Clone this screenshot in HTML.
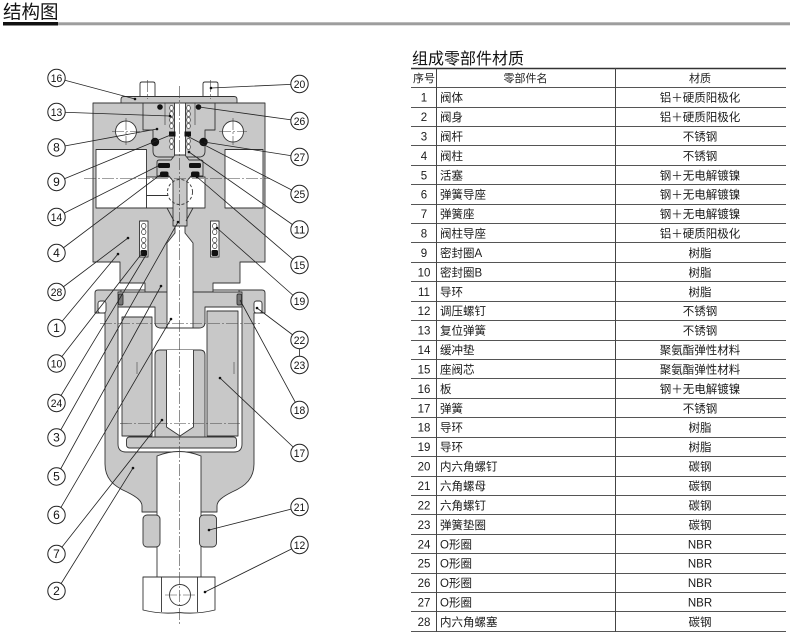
<!DOCTYPE html>
<html><head><meta charset="utf-8">
<style>
html,body{margin:0;padding:0;background:#fff;}
body{width:790px;height:641px;overflow:hidden;}
svg{display:block;font-family:"Liberation Sans","Noto Sans CJK SC",sans-serif;}
</style></head>
<body>
<svg xmlns="http://www.w3.org/2000/svg" width="790" height="641" viewBox="0 0 790 641">
<rect width="790" height="641" fill="#fff"/>
<!-- header -->
<text x="3" y="18.5" font-size="18.5" fill="#111">结构图</text>
<rect x="3" y="22" width="55" height="3.5" fill="#111"/>
<rect x="58" y="22.3" width="732" height="3" fill="#9d9d9d"/>

<!-- ===== TABLE ===== -->
<text x="412" y="64" font-size="16" fill="#111">组成零部件材质</text>
<path d="M411,68.5H786" stroke="#333" stroke-width="1.5" fill="none"/>
<path d="M411,87.5H786M411,107.5H786M411,126.5H786M411,145.5H786M411,165.5H786M411,184.5H786M411,204.5H786M411,223.5H786M411,242.5H786M411,262.5H786M411,281.5H786M411,301.5H786M411,320.5H786M411,340.5H786M411,359.5H786M411,378.5H786M411,398.5H786M411,417.5H786M411,437.5H786M411,456.5H786M411,476.5H786M411,495.5H786M411,514.5H786M411,534.5H786M411,553.5H786M411,573.5H786M411,592.5H786M411,611.5H786M411,631.5H786" stroke="#555" stroke-width="1" fill="none"/>
<path d="M436.5,68V632M615.5,68V632" stroke="#444" stroke-width="1" fill="none"/>
<g font-size="11" fill="#222" text-anchor="middle">
<text x="424" y="82">序号</text>
<text x="525.5" y="82">零部件名</text>
<text x="700" y="82">材质</text>
</g>
<g font-size="11.5" fill="#1a1a1a">
<g text-anchor="middle">
<text x="424" y="101.6">1</text><text x="424" y="121">2</text><text x="424" y="140.4">3</text><text x="424" y="159.9">4</text>
<text x="424" y="179.3">5</text><text x="424" y="198.7">6</text><text x="424" y="218.1">7</text><text x="424" y="237.5">8</text>
<text x="424" y="257">9</text><text x="424" y="276.4">10</text><text x="424" y="295.8">11</text><text x="424" y="315.2">12</text>
<text x="424" y="334.6">13</text><text x="424" y="354.1">14</text><text x="424" y="373.5">15</text><text x="424" y="392.9">16</text>
<text x="424" y="412.3">17</text><text x="424" y="431.7">18</text><text x="424" y="451.2">19</text><text x="424" y="470.6">20</text>
<text x="424" y="490">21</text><text x="424" y="509.4">22</text><text x="424" y="528.8">23</text><text x="424" y="548.3">24</text>
<text x="424" y="567.7">25</text><text x="424" y="587.1">26</text><text x="424" y="606.5">27</text><text x="424" y="625.9">28</text>
</g>
<g>
<text x="440" y="101.6">阀体</text><text x="440" y="121">阀身</text><text x="440" y="140.4">阀杆</text><text x="440" y="159.9">阀柱</text>
<text x="440" y="179.3">活塞</text><text x="440" y="198.7">弹簧导座</text><text x="440" y="218.1">弹簧座</text><text x="440" y="237.5">阀柱导座</text>
<text x="440" y="257">密封圈A</text><text x="440" y="276.4">密封圈B</text><text x="440" y="295.8">导环</text><text x="440" y="315.2">调压螺钉</text>
<text x="440" y="334.6">复位弹簧</text><text x="440" y="354.1">缓冲垫</text><text x="440" y="373.5">座阀芯</text><text x="440" y="392.9">板</text>
<text x="440" y="412.3">弹簧</text><text x="440" y="431.7">导环</text><text x="440" y="451.2">导环</text><text x="440" y="470.6">内六角螺钉</text>
<text x="440" y="490">六角螺母</text><text x="440" y="509.4">六角螺钉</text><text x="440" y="528.8">弹簧垫圈</text><text x="440" y="548.3">O形圈</text>
<text x="440" y="567.7">O形圈</text><text x="440" y="587.1">O形圈</text><text x="440" y="606.5">O形圈</text><text x="440" y="625.9">内六角螺塞</text>
</g>
<g text-anchor="middle">
<text x="700" y="101.6">铝＋硬质阳极化</text><text x="700" y="121">铝＋硬质阳极化</text><text x="700" y="140.4">不锈钢</text><text x="700" y="159.9">不锈钢</text>
<text x="700" y="179.3">钢＋无电解镀镍</text><text x="700" y="198.7">钢＋无电解镀镍</text><text x="700" y="218.1">钢＋无电解镀镍</text><text x="700" y="237.5">铝＋硬质阳极化</text>
<text x="700" y="257">树脂</text><text x="700" y="276.4">树脂</text><text x="700" y="295.8">树脂</text><text x="700" y="315.2">不锈钢</text>
<text x="700" y="334.6">不锈钢</text><text x="700" y="354.1">聚氨酯弹性材料</text><text x="700" y="373.5">聚氨酯弹性材料</text><text x="700" y="392.9">钢＋无电解镀镍</text>
<text x="700" y="412.3">不锈钢</text><text x="700" y="431.7">树脂</text><text x="700" y="451.2">树脂</text><text x="700" y="470.6">碳钢</text>
<text x="700" y="490">碳钢</text><text x="700" y="509.4">碳钢</text><text x="700" y="528.8">碳钢</text><text x="700" y="548.3">NBR</text>
<text x="700" y="567.7">NBR</text><text x="700" y="587.1">NBR</text><text x="700" y="606.5">NBR</text><text x="700" y="625.9">碳钢</text>
</g>
</g>

<!-- ===== DIAGRAM ===== -->
<g stroke="#333" stroke-width="0.9" stroke-linejoin="round">
<!-- bolts 20 -->
<path d="M140,97V84Q140,82 142,82H153Q155,82 155,84V97Z" fill="#fff"/>
<path d="M203,97V84Q203,82 205,82H216Q218,82 218,84V97Z" fill="#fff"/>
<!-- plate 16 -->
<path d="M121,104V99.5Q121,96.5 124,96.5H234Q237,96.5 237,99.5V104Z" fill="#c8c8c8"/>

<!-- body 2 outer -->
<path d="M95,293Q95,290 98,290H262Q265,290 265,293V313H254V464C254,478 246,486 232,492C222,497 217,501 217,506V512H142V506C142,501 137,497 127,492C113,486 105,478 105,464V313H95Z" fill="#c8c8c8"/>
<!-- cavity -->
<path d="M121,290H239V307H242V444Q242,452 234,452H126Q118,452 118,444V307H121Z" fill="#fff"/>

<!-- body 1 -->
<path d="M93,103H265V262H240V283H213V293H145V283H120V262H93Z" fill="#c8c8c8"/>
<!-- port holes -->
<circle cx="126" cy="131.5" r="10.5" fill="#fff"/>
<circle cx="233" cy="131.5" r="10.5" fill="#fff"/>
<!-- port windows -->
<rect x="96" y="149.5" width="50.5" height="58.5" fill="#fff"/>
<rect x="225" y="149.5" width="38" height="58.5" fill="#fff"/>
<rect x="146.5" y="177" width="58.5" height="31" fill="#fff"/>
<!-- insert outline -->
<path d="M143,103V130H153V151Q153,157 159,157H199Q205,157 205,151V130H215V103" fill="none"/>
<path d="M165,103V125M195,103V125" fill="none" stroke-width="0.6"/>
<!-- stem upper -->
<rect x="174.5" y="103" width="11" height="52" fill="#fff"/>
<g fill="#fff" stroke-width="0.7">
<ellipse cx="171.5" cy="108" rx="1.8" ry="2.6"/><ellipse cx="171.5" cy="114" rx="1.8" ry="2.6"/><ellipse cx="171.5" cy="120" rx="1.8" ry="2.6"/><ellipse cx="171.5" cy="126" rx="1.8" ry="2.6"/>
<ellipse cx="171.5" cy="141" rx="1.8" ry="2.6"/><ellipse cx="171.5" cy="147" rx="1.8" ry="2.6"/>
<ellipse cx="188.5" cy="108" rx="1.8" ry="2.6"/><ellipse cx="188.5" cy="114" rx="1.8" ry="2.6"/><ellipse cx="188.5" cy="120" rx="1.8" ry="2.6"/><ellipse cx="188.5" cy="126" rx="1.8" ry="2.6"/>
<ellipse cx="188.5" cy="141" rx="1.8" ry="2.6"/><ellipse cx="188.5" cy="147" rx="1.8" ry="2.6"/>
</g>
<!-- o-rings / seals -->
<g fill="#111" stroke="none">
<circle cx="160" cy="107" r="2.8"/><circle cx="198.5" cy="107" r="2.8"/>
<circle cx="155" cy="142" r="4.2"/><circle cx="203.5" cy="142" r="4.2"/>
<rect x="169" y="131.5" width="6.5" height="5"/><rect x="184.5" y="131.5" width="6.5" height="5"/>
</g>
<!-- mushroom / valve pillar -->
<path d="M157,162Q157,160 159.5,160H171L175,155H185L189,160H200.5Q203,160 203,162V176H191L187,181V226H173V181L169,176H157Z" fill="#c8c8c8"/>
<g fill="#111" stroke="none">
<rect x="158" y="163" width="12" height="5" rx="1.5"/><rect x="189" y="163" width="12" height="5" rx="1.5"/>
<rect x="160" y="171.5" width="8.5" height="5.5" rx="2"/><rect x="191" y="171.5" width="8.5" height="5.5" rx="2"/>
</g>
<circle cx="180" cy="192" r="12.5" fill="none" stroke-dasharray="3 2"/>
<path d="M146.5,195.5H168M167,208L174,221M193,208L186,221" fill="none"/>

<!-- spring pockets in body -->
<rect x="139.5" y="221" width="8.5" height="36" fill="#fff"/>
<rect x="210.5" y="221" width="8.5" height="36" fill="#fff"/>
<g fill="#fff" stroke-width="0.7">
<ellipse cx="143.75" cy="226" rx="2.2" ry="2.6"/><ellipse cx="143.75" cy="232" rx="2.2" ry="2.6"/><ellipse cx="143.75" cy="240" rx="2.2" ry="2.6"/><ellipse cx="143.75" cy="246" rx="2.2" ry="2.6"/>
<ellipse cx="214.75" cy="226" rx="2.2" ry="2.6"/><ellipse cx="214.75" cy="232" rx="2.2" ry="2.6"/><ellipse cx="214.75" cy="240" rx="2.2" ry="2.6"/><ellipse cx="214.75" cy="246" rx="2.2" ry="2.6"/>
</g>
<g fill="#111" stroke="none">
<rect x="140.5" y="250" width="6.5" height="6" rx="1.5"/><rect x="211.5" y="250" width="6.5" height="6" rx="1.5"/>
</g>

<!-- piston plate + hub -->
<path d="M118,292H242V307H205V322Q205,328 199,328H161Q155,328 155,322V307H118Z" fill="#c8c8c8"/>
<!-- bore -->
<path d="M175,226H185V233L193,243V328H167V243L175,233Z" fill="#fff"/>
<!-- seals 18 -->
<rect x="118.5" y="294" width="4.5" height="11" rx="1.5" fill="#777"/>
<rect x="237" y="294" width="4.5" height="11" rx="1.5" fill="#777"/>
<!-- nubs 22 -->
<rect x="98" y="301" width="8" height="12" rx="2.5" fill="#fff"/>
<rect x="254" y="301" width="8" height="12" rx="2.5" fill="#fff"/>

<!-- spring blocks 17 -->
<rect x="122" y="317" width="30" height="119" fill="#c8c8c8"/>
<rect x="207" y="311" width="31" height="125" fill="#c8c8c8"/>
<!-- part 6 -->
<path d="M155,437V355Q155,350 160,350H200Q205,350 205,355V437Z" fill="#c8c8c8"/>
<path d="M166.5,350V427L180,436L193.5,427V350" fill="#fff"/>
<!-- band 7 -->
<rect x="126.5" y="437" width="110" height="11" rx="3" fill="#c8c8c8"/>

<!-- rod -->
<path d="M157,577V456Q179,447 201,456V577Z" fill="#fff"/>
<!-- lock nuts 21 -->
<rect x="143" y="515" width="17" height="32" rx="4" fill="#c8c8c8"/>
<rect x="199.5" y="515" width="17" height="32" rx="4" fill="#c8c8c8"/>
<!-- bottom nut 12 -->
<path d="M143,577H215V610Q197,614.5 179,612.5Q161,614.5 143,610Z" fill="#fff"/>
<path d="M161.5,577V612M197.5,577V612" fill="none"/>
<circle cx="180" cy="595" r="10.5" fill="#fff"/>
</g>

<!-- center lines -->
<g stroke="#444" stroke-width="0.6" fill="none" stroke-dasharray="12 2 2 2">
<path d="M179.5,86V624"/>
<path d="M84,178.5H270"/>
<path d="M100,323.5H262"/>
<path d="M120,423.5H240"/>
<path d="M165,595H195"/>
<path d="M147.5,80V99M210.5,80V99"/>
<path d="M137,362V376M234,362V376"/>
<path d="M112,131.5H140M126,118V145M219,131.5H247M233,118V145"/>
</g>

<!-- leaders -->
<g stroke="#222" stroke-width="0.8" fill="none">
<path d="M56.5,78L135,99M56.5,112L170,116M56.5,147.5L157,129M56.5,182L173,134M56.5,217L158,166M56.5,253L160,175M56.5,292L128,238M56.5,328L118,254M56.5,363.5L143,252M56.5,403L146,255M56.5,437.5L178,222M56.5,476.5L161,286M56.5,515L171,319M56.5,554L162,420M56.5,591L133,468"/>
<path d="M299.5,84L211,88M299.5,121L199,107M299.5,157L204,142M299.5,194L187,136M299.5,229.5L189,152M299.5,265L197,177M299.5,301L217,228M299.5,340L257,308M299.5,340V365M299.5,410L240,300M299.5,453L220,378M299.5,507L209,530M299.5,545L205,592"/>
</g>
<g fill="#111">
<circle cx="135" cy="99" r="1.3"/><circle cx="170" cy="116" r="1.3"/><circle cx="157" cy="129" r="1.3"/><circle cx="128" cy="238" r="1.3"/><circle cx="118" cy="254" r="1.3"/>
<circle cx="178" cy="222" r="1.3"/><circle cx="161" cy="286" r="1.3"/><circle cx="171" cy="319" r="1.3"/><circle cx="162" cy="420" r="1.3"/><circle cx="133" cy="468" r="1.3"/>
<circle cx="211" cy="88" r="1.3"/><circle cx="189" cy="152" r="1.3"/><circle cx="197" cy="177" r="1.3"/><circle cx="217" cy="228" r="1.3"/><circle cx="257" cy="308" r="1.3"/>
<circle cx="220" cy="378" r="1.3"/><circle cx="209" cy="530" r="1.3"/><circle cx="205" cy="592" r="1.3"/>
</g>

<!-- label circles -->
<g fill="#fff" stroke="#222" stroke-width="1">
<circle cx="56.5" cy="78" r="8.7"/><circle cx="56.5" cy="112" r="8.7"/><circle cx="56.5" cy="147.5" r="8.7"/><circle cx="56.5" cy="182" r="8.7"/>
<circle cx="56.5" cy="217" r="8.7"/><circle cx="56.5" cy="253" r="8.7"/><circle cx="56.5" cy="292" r="8.7"/><circle cx="56.5" cy="328" r="8.7"/>
<circle cx="56.5" cy="363.5" r="8.7"/><circle cx="56.5" cy="403" r="8.7"/><circle cx="56.5" cy="437.5" r="8.7"/><circle cx="56.5" cy="476.5" r="8.7"/>
<circle cx="56.5" cy="515" r="8.7"/><circle cx="56.5" cy="554" r="8.7"/><circle cx="56.5" cy="591" r="8.7"/>
<circle cx="299.5" cy="84" r="8.7"/><circle cx="299.5" cy="121" r="8.7"/><circle cx="299.5" cy="157" r="8.7"/><circle cx="299.5" cy="194" r="8.7"/>
<circle cx="299.5" cy="229.5" r="8.7"/><circle cx="299.5" cy="265" r="8.7"/><circle cx="299.5" cy="301" r="8.7"/><circle cx="299.5" cy="340" r="8.7"/>
<circle cx="299.5" cy="365" r="8.7"/><circle cx="299.5" cy="410" r="8.7"/><circle cx="299.5" cy="453" r="8.7"/><circle cx="299.5" cy="507" r="8.7"/>
<circle cx="299.5" cy="545" r="8.7"/>
</g>
<g fill="#111" font-size="11" text-anchor="middle">
<text x="56.5" y="82" textLength="11.5" lengthAdjust="spacingAndGlyphs">16</text>
<text x="56.5" y="116" textLength="11.5" lengthAdjust="spacingAndGlyphs">13</text>
<text x="56.5" y="151.7" font-size="12">8</text>
<text x="56.5" y="186.2" font-size="12">9</text>
<text x="56.5" y="221" textLength="11.5" lengthAdjust="spacingAndGlyphs">14</text>
<text x="56.5" y="257.2" font-size="12">4</text>
<text x="56.5" y="296" textLength="11.5" lengthAdjust="spacingAndGlyphs">28</text>
<text x="56.5" y="332.2" font-size="12">1</text>
<text x="56.5" y="367.5" textLength="11.5" lengthAdjust="spacingAndGlyphs">10</text>
<text x="56.5" y="407" textLength="11.5" lengthAdjust="spacingAndGlyphs">24</text>
<text x="56.5" y="441.7" font-size="12">3</text>
<text x="56.5" y="480.7" font-size="12">5</text>
<text x="56.5" y="519.2" font-size="12">6</text>
<text x="56.5" y="558.2" font-size="12">7</text>
<text x="56.5" y="595.2" font-size="12">2</text>
<text x="299.5" y="88" textLength="11.5" lengthAdjust="spacingAndGlyphs">20</text>
<text x="299.5" y="125" textLength="11.5" lengthAdjust="spacingAndGlyphs">26</text>
<text x="299.5" y="161" textLength="11.5" lengthAdjust="spacingAndGlyphs">27</text>
<text x="299.5" y="198" textLength="11.5" lengthAdjust="spacingAndGlyphs">25</text>
<text x="299.5" y="233.5" textLength="11.5" lengthAdjust="spacingAndGlyphs">11</text>
<text x="299.5" y="269" textLength="11.5" lengthAdjust="spacingAndGlyphs">15</text>
<text x="299.5" y="305" textLength="11.5" lengthAdjust="spacingAndGlyphs">19</text>
<text x="299.5" y="344" textLength="11.5" lengthAdjust="spacingAndGlyphs">22</text>
<text x="299.5" y="369" textLength="11.5" lengthAdjust="spacingAndGlyphs">23</text>
<text x="299.5" y="414" textLength="11.5" lengthAdjust="spacingAndGlyphs">18</text>
<text x="299.5" y="457" textLength="11.5" lengthAdjust="spacingAndGlyphs">17</text>
<text x="299.5" y="511" textLength="11.5" lengthAdjust="spacingAndGlyphs">21</text>
<text x="299.5" y="549" textLength="11.5" lengthAdjust="spacingAndGlyphs">12</text>
</g>
</svg>
</body></html>
